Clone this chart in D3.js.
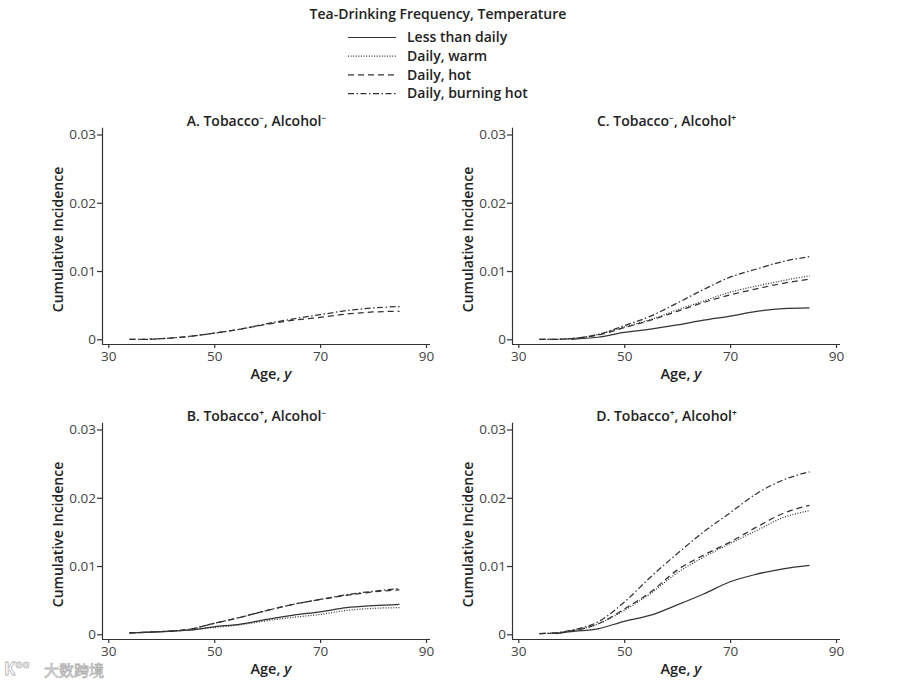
<!DOCTYPE html>
<html>
<head>
<meta charset="utf-8">
<script src="https://cdn.jsdelivr.net/npm/d3@7"></script>
<style>
  body { margin: 0; background: #fff; }
  svg { font-family: 'Open Sans', sans-serif; }
</style>
</head>
<body>
<script>
// ages shared by every curve
const ages = [34, 37, 40, 45, 50, 55, 60, 65, 70, 75, 80, 85];

const seriesNames = ['Less than daily', 'Daily, warm', 'Daily, hot', 'Daily, burning hot'];

// panel A: tobacco-, alcohol- (only two curves visible)
const aLess = [];
const aWarm = [];
const aHot = [0, 0, 0.0001, 0.0004, 0.0009, 0.0015, 0.0022, 0.0028, 0.0032, 0.0037, 0.0040, 0.0041];
const aBurning = [0, 0, 0.0001, 0.0004, 0.0009, 0.0015, 0.0023, 0.0030, 0.0036, 0.0042, 0.0046, 0.0048];

// panel B: tobacco+, alcohol-
const bLess = [0.0002, 0.0003, 0.0004, 0.0006, 0.0011, 0.0015, 0.0022, 0.0028, 0.0033, 0.0039, 0.0042, 0.0044];
const bWarm = [0.0002, 0.0003, 0.0004, 0.0006, 0.0010, 0.0014, 0.0020, 0.0025, 0.0029, 0.0035, 0.0038, 0.0039];
const bHot = [0.0002, 0.0003, 0.0004, 0.0007, 0.0016, 0.0025, 0.0035, 0.0044, 0.0051, 0.0057, 0.0062, 0.0065];
const bBurning = [0.0002, 0.0003, 0.0004, 0.0007, 0.0016, 0.0025, 0.0035, 0.0044, 0.0051, 0.0058, 0.0063, 0.0067];

// panel C: tobacco-, alcohol+
const cLess = [null, null, 0, 0.0003, 0.0010, 0.0015, 0.0021, 0.0028, 0.0034, 0.0041, 0.0045, 0.0046];
const cWarm = [0, 0, 0.0001, 0.0007, 0.0018, 0.0029, 0.0043, 0.0056, 0.0069, 0.0078, 0.0086, 0.0093];
const cHot = [0, 0, 0.0001, 0.0006, 0.0017, 0.0028, 0.0041, 0.0054, 0.0065, 0.0074, 0.0082, 0.0088];
const cBurning = [0, 0, 0.0001, 0.0007, 0.0020, 0.0034, 0.0053, 0.0073, 0.0091, 0.0103, 0.0114, 0.0121];

// panel D: tobacco+, alcohol+
const dLess = [null, 0.0001, 0.0004, 0.0008, 0.0019, 0.0028, 0.0043, 0.0059, 0.0077, 0.0088, 0.0096, 0.0101];
const dWarm = [0.0001, 0.0002, 0.0005, 0.0015, 0.0035, 0.0060, 0.0090, 0.0113, 0.0133, 0.0152, 0.0171, 0.0181];
const dHot = [0.0001, 0.0002, 0.0005, 0.0015, 0.0037, 0.0062, 0.0094, 0.0116, 0.0135, 0.0157, 0.0177, 0.0189];
const dBurning = [0.0001, 0.0002, 0.0006, 0.0018, 0.0047, 0.0084, 0.0118, 0.0150, 0.0178, 0.0206, 0.0226, 0.0238];

const xTicks = [30, 50, 70, 90];
const yTicks = [0, 0.01, 0.02, 0.03];

const panels = [
  { letter: 'A', tob: '−', alc: '−', col: 0, row: 0, series: [aLess, aWarm, aHot, aBurning] },
  { letter: 'C', tob: '−', alc: '+', col: 1, row: 0, series: [cLess, cWarm, cHot, cBurning] },
  { letter: 'B', tob: '+', alc: '−', col: 0, row: 1, series: [bLess, bWarm, bHot, bBurning] },
  { letter: 'D', tob: '+', alc: '+', col: 1, row: 1, series: [dLess, dWarm, dHot, dBurning] },
];

const w = 900;
const h = 687;
const ink = '#333';
const dashes = [null, '1,1.6', '6,4', '6,2.5,1.5,2.5'];

const svg = d3.select('body').append('svg').attr('width', w).attr('height', h);

// legend at the top
const legend = svg.append('g');
legend
  .append('text')
  .attr('x', 438)
  .attr('y', 19)
  .attr('text-anchor', 'middle')
  .attr('font-size', 14)
  .attr('font-weight', 600)
  .attr('fill', '#222')
  .text('Tea-Drinking Frequency, Temperature');

seriesNames.forEach((name, i) => {
  const y = 37.5 + i * 18.7;
  legend
    .append('line')
    .attr('x1', 348)
    .attr('x2', 396)
    .attr('y1', y)
    .attr('y2', y)
    .attr('stroke', ink)
    .attr('stroke-width', 1.2)
    .attr('stroke-dasharray', dashes[i]);
  legend
    .append('text')
    .attr('x', 407)
    .attr('y', y + 4.8)
    .attr('font-size', 14)
    .attr('font-weight', 600)
    .attr('fill', '#222')
    .text(name);
});

panels.forEach((p) => {
  const ox = 102 + p.col * 410; // y-axis line position
  const oy = 344 + p.row * 295; // x-axis line position
  const g = svg.append('g');

  const xScale = d3.scaleLinear().domain([30, 90]).range([ox + 6.3, ox + 324]);
  const yScale = d3.scaleLinear().domain([0, 0.03]).range([oy - 4.7, oy - 209.5]);

  // axes
  const xAxis = d3.axisBottom(xScale).tickValues(xTicks).tickSize(4).tickPadding(3).tickSizeOuter(0);
  const xg = g.append('g').attr('transform', `translate(0, ${oy})`).call(xAxis);
  xg.select('.domain').attr('d', `M${ox},0.5H${ox + 328}`);

  const yAxis = d3
    .axisLeft(yScale)
    .tickValues(yTicks)
    .tickSize(5)
    .tickPadding(1)
    .tickFormat((d) => (d === 0 ? '0' : d3.format('.2f')(d)));
  const yg = g.append('g').attr('transform', `translate(${ox}, 0)`).call(yAxis);
  yg.select('.domain').attr('d', `M0.5,${oy - 216.3}V${oy}`);

  [xg, yg].forEach((a) => {
    a.selectAll('.domain, .tick line').attr('stroke', ink).attr('stroke-width', 1.2);
    a.selectAll('.tick text').attr('font-size', 13.5).attr('fill', '#444').attr('font-family', "'Open Sans', sans-serif");
  });

  // panel title with superscripts
  const title = g
    .append('text')
    .attr('x', xScale(58))
    .attr('y', oy - 218)
    .attr('text-anchor', 'middle')
    .attr('font-size', 14)
    .attr('font-weight', 600)
    .attr('fill', '#222');
  title.append('tspan').text(`${p.letter}. Tobacco`);
  title.append('tspan').attr('font-size', 8.5).attr('dy', -5).text(p.tob);
  title.append('tspan').attr('dy', 5).text(', Alcohol');
  title.append('tspan').attr('font-size', 8.5).attr('dy', -5).text(p.alc);

  // axis titles
  g.append('text')
    .attr('transform', `translate(${ox - 39}, ${oy - 104.5}) rotate(-90)`)
    .attr('text-anchor', 'middle')
    .attr('font-size', 14)
    .attr('font-weight', 600)
    .attr('fill', '#222')
    .text('Cumulative Incidence');

  const xt = g
    .append('text')
    .attr('x', xScale(60.7))
    .attr('y', oy + 35)
    .attr('text-anchor', 'middle')
    .attr('font-size', 14.5)
    .attr('font-weight', 600)
    .attr('fill', '#222');
  xt.append('tspan').text('Age, ');
  xt.append('tspan').attr('font-style', 'italic').text('y');

  // curves
  const line = d3
    .line()
    .defined((d) => d[1] != null)
    .x((d) => xScale(d[0]))
    .y((d) => yScale(d[1]))
    .curve(d3.curveMonotoneX);

  p.series.forEach((vals, i) => {
    if (!vals.length) return;
    g.append('path')
      .datum(ages.map((a, j) => [a, vals[j]]))
      .attr('d', line)
      .attr('fill', 'none')
      .attr('stroke', ink)
      .attr('stroke-width', 1.25)
      .attr('stroke-dasharray', dashes[i]);
  });
});

// watermark bottom left
svg
  .append('text')
  .attr('x', 4)
  .attr('y', 675)
  .attr('font-size', 17)
  .attr('font-weight', 700)
  .attr('fill', '#fff')
  .attr('stroke', '#b5b5b5')
  .attr('stroke-width', 0.8)
  .text('K°°');
svg
  .append('text')
  .attr('x', 44)
  .attr('y', 676)
  .attr('font-size', 15)
  .attr('font-family', "'Noto Sans CJK SC', sans-serif")
  .attr('fill', '#fff')
  .attr('stroke', '#b5b5b5')
  .attr('stroke-width', 0.8)
  .text('大数跨境');
</script>
</body>
</html>
